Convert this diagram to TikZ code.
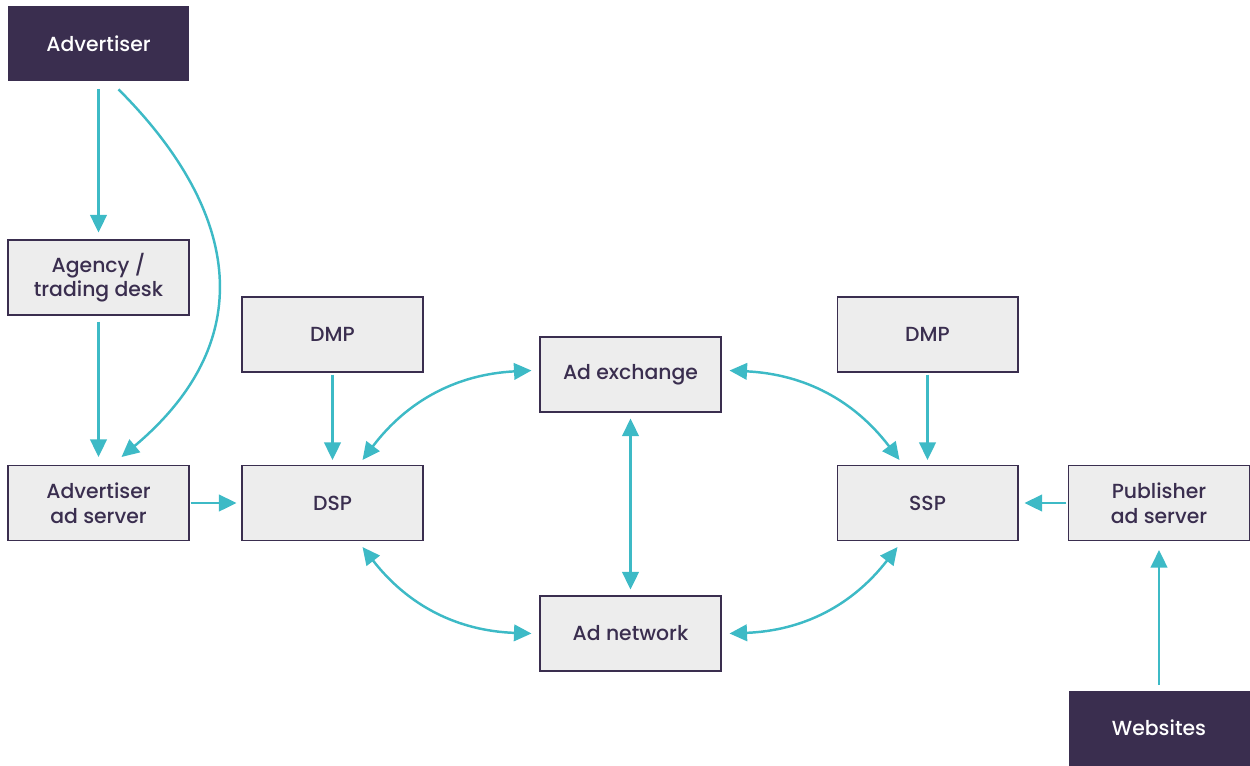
\documentclass[tikz,border=0pt]{standalone}
\usepackage{fontspec}
\setmainfont{Poppins}[UprightFont=* Medium]
\usetikzlibrary{arrows.meta}
\definecolor{plum}{HTML}{3A2E4F}
\definecolor{boxgray}{HTML}{EDEDED}
\definecolor{teal}{HTML}{3DBAC6}
\tikzset{
  darkbox/.style={fill=plum, text=white, minimum width=3.62cm, minimum height=1.5cm, align=center},
  graybox/.style={fill=boxgray, draw=plum, line width=0.6pt, text=plum, minimum width=3.62cm, minimum height=1.5cm, align=center},
  flow/.style={teal, line width=1.4pt, -{Triangle[length=0.35cm, width=0.33cm]}},
  biflow/.style={teal, line width=1.4pt, {Triangle[length=0.35cm, width=0.33cm]}-{Triangle[length=0.35cm, width=0.33cm]}}
}
\begin{document}
\begin{tikzpicture}[x=0.02cm, y=0.02cm, every node/.style={font=\fontsize{11.6}{14}\selectfont}]
  \useasboundingbox (0,0) rectangle (1250,-765);

  % left column
  \node [darkbox] (advertiser) at (98.5,-43.5) {Advertiser};
  \node [graybox] (agency) at (98.5,-277.5) {Agency /\\trading desk};
  \node [graybox] (advserver) at (98.5,-503) {Advertiser\\ad server};

  % buy side
  \node [graybox] (dmpl) at (332.5,-334.5) {DMP};
  \node [graybox] (dsp) at (332.5,-503) {DSP};

  % middle
  \node [graybox] (adx) at (630.5,-374.5) {Ad exchange};
  \node [graybox] (adnet) at (630.5,-633.5) {Ad network};

  % sell side
  \node [graybox] (dmpr) at (927.5,-334.5) {DMP};
  \node [graybox] (ssp) at (927.5,-503) {SSP};
  \node [graybox] (pubserver) at (1159,-503) {Publisher\\ad server};
  \node [darkbox] (websites) at (1159,-728) {Websites};

  % straight arrows
  \draw [flow, shorten <=0.16cm, shorten >=0.14cm] (advertiser) -- (agency);
  \draw [flow, shorten <=0.12cm, shorten >=0.16cm] (agency) -- (advserver);
  \draw [flow, shorten <=0.02cm, shorten >=0.1cm] (advserver) -- (dsp);
  \draw [flow, shorten <=0.04cm, shorten >=0.1cm] (dmpl) -- (dsp);
  \draw [flow, shorten <=0.04cm, shorten >=0.1cm] (dmpr) -- (ssp);
  \draw [flow, shorten <=0.04cm, shorten >=0.12cm] (pubserver) -- (ssp);
  \draw [flow, shorten <=0.1cm, shorten >=0.18cm] (websites) -- (pubserver);
  \draw [biflow, shorten <=0.12cm, shorten >=0.12cm] (adx) -- (adnet);

  % curved arrows
  \draw [flow] ([shift={(20,-8)}]advertiser.south) .. controls +(116,-116) and +(144,121) .. ([shift={(23,8)}]advserver.north);
  \draw [biflow] ([shift={(30,5)}]dsp.north) to [bend left=25] ([shift={(-8,4)}]adx.west);
  \draw [biflow] ([shift={(30,-6)}]dsp.south) to [bend right=25] ([shift={(-8,0)}]adnet.west);
  \draw [biflow] ([shift={(8,4)}]adx.east) to [bend left=25] ([shift={(-28,5)}]ssp.north);
  \draw [biflow] ([shift={(8,0)}]adnet.east) to [bend right=25] ([shift={(-30,-6)}]ssp.south);
\end{tikzpicture}
\end{document}
